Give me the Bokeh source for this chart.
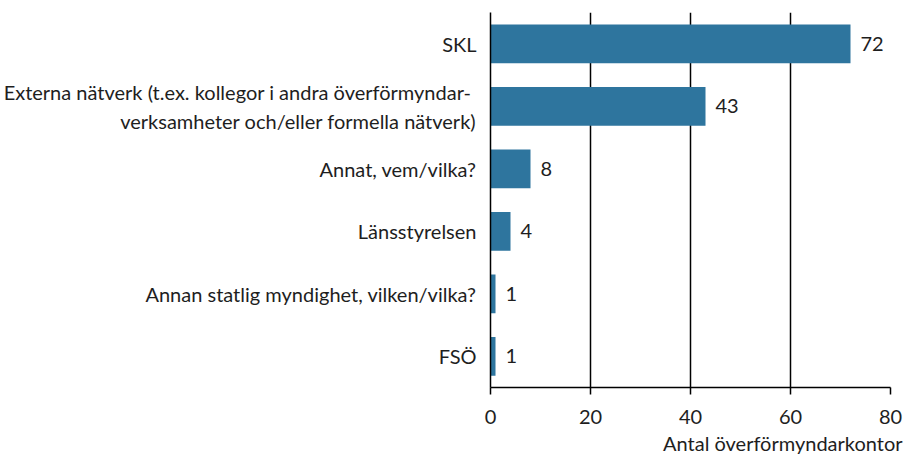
from bokeh.plotting import figure
from bokeh.models import ColumnDataSource, FactorRange, Range1d, Title
from bokeh.embed import file_html
from bokeh.resources import INLINE
from bokeh.core.properties import value

categories = [
    "SKL",
    "Externa nätverk  (t.ex. kollegor i andra överförmyndar-\nverksamheter och/eller formella nätverk)",
    "Annat, vem/vilka?",
    "Länsstyrelsen",
    "Annan statlig myndighet, vilken/vilka?",
    "FSÖ",
]
counts = [72, 43, 8, 4, 1, 1]
x_ticks = [0, 20, 40, 60, 80]
x_title = "Antal överförmyndarkontor"

FONT = "Lato"
FS = "20px"
BAR = "#2e759e"
INK = "#1e1e1e"

src = ColumnDataSource(dict(cat=categories, count=counts, label=[str(c) for c in counts]))

p = figure(
    width=904, height=457,
    y_range=FactorRange(factors=list(reversed(categories)), range_padding=0),
    x_range=Range1d(0, 80),
    output_backend="svg", toolbar_location=None,
    min_border_left=490, min_border_right=14, min_border_top=12, min_border_bottom=66,
)
p.outline_line_color = None

p.hbar(y="cat", left=0, right="count", height=0.62, source=src, fill_color=BAR, line_color=None)
p.text(x="count", y="cat", text="label", source=src, x_offset=10, text_baseline="middle",
       text_font=value(FONT), text_font_size=FS, text_color=INK)

p.xaxis.ticker = x_ticks
p.xaxis.major_tick_out = 7
p.xaxis.major_tick_in = 0
p.xaxis.minor_tick_line_color = None
p.xaxis.axis_line_width = 1.5
p.xaxis.major_tick_line_width = 1.5
p.xaxis.axis_line_color = "black"
p.xaxis.major_label_text_font = FONT
p.xaxis.major_label_text_font_size = FS
p.xaxis.major_label_text_color = INK
p.xaxis.major_label_standoff = 15

p.yaxis.major_tick_line_color = None
p.yaxis.minor_tick_line_color = None
p.yaxis.axis_line_width = 1.5
p.yaxis.axis_line_color = "black"
p.yaxis.major_label_text_font = FONT
p.yaxis.major_label_text_font_size = FS
p.yaxis.major_label_text_color = INK
p.yaxis.major_label_standoff = 8

p.xgrid.grid_line_color = "black"
p.xgrid.grid_line_width = 1.5
p.ygrid.grid_line_color = None

p.add_layout(Title(text=x_title, align="right", offset=-12, standoff=5,
                   text_font=FONT, text_font_size=FS, text_font_style="normal",
                   text_color=INK), "below")

open("out.html", "w").write(file_html(p, INLINE))
